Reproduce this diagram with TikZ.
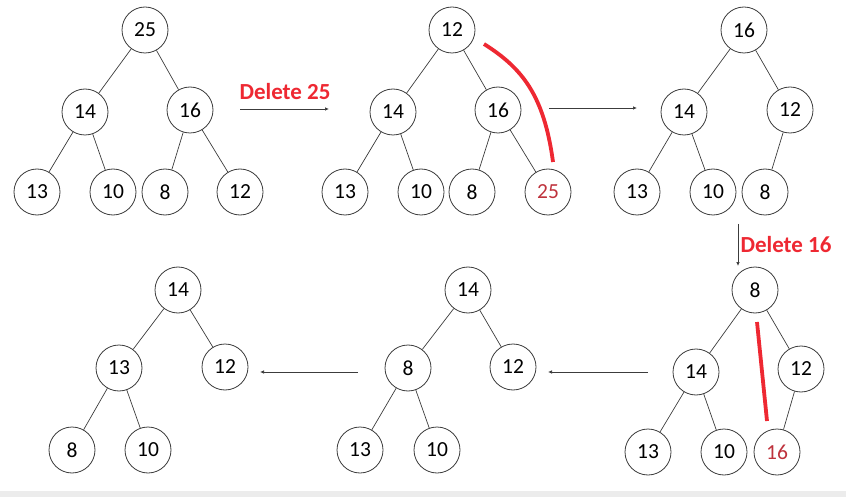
\documentclass[tikz,border=0pt]{standalone}
\usepackage{fontspec}
\setmainfont{Carlito}
\usetikzlibrary{arrows.meta}
\definecolor{delred}{RGB}{238,40,50}
\definecolor{numred}{RGB}{190,50,60}
\definecolor{bargray}{RGB}{236,236,236}
\definecolor{linegray}{RGB}{60,60,60}

\begin{document}
\begin{tikzpicture}[x=1pt, y=-1pt,
  hnode/.style={circle, draw=linegray, line width=0.8pt, minimum size=46pt, inner sep=0pt, font=\fontsize{21.5}{24}\selectfont},
  hedge/.style={draw=linegray, line width=0.7pt},
  flow/.style={-{Latex[length=4pt,width=3.5pt]}, draw=linegray, line width=0.7pt},
  dellabel/.style={text=delred, font=\fontsize{23}{25}\selectfont\bfseries},
  redstroke/.style={draw=delred, line width=3.8pt}]
  \useasboundingbox (0,0) rectangle (846,497);
  \fill[bargray] (0,491) rectangle (846,497);

  % 木1
  \node[hnode] (a25) at (145,30) {25};
  \node[hnode] (a14) at (85,112) {14};
  \node[hnode] (a16) at (190,110) {16};
  \node[hnode] (a13) at (37,192) {13};
  \node[hnode] (a10) at (113,192) {10};
  \node[hnode] (a8) at (165,192) {8};
  \node[hnode] (a12) at (240,192) {12};
  \draw[hedge] (a25) -- (a14) (a25) -- (a16) (a14) -- (a13) (a14) -- (a10)
    (a16) -- (a8) (a16) -- (a12);

  % 木2
  \node[hnode] (b12) at (452,30) {12};
  \node[hnode] (b14) at (393,112) {14};
  \node[hnode] (b16) at (498,110) {16};
  \node[hnode] (b13) at (345,192) {13};
  \node[hnode] (b10) at (421,192) {10};
  \node[hnode] (b8) at (472,192) {8};
  \node[hnode, text=numred] (b25) at (548,192) {25};
  \draw[hedge] (b12) -- (b14) (b12) -- (b16) (b14) -- (b13) (b14) -- (b10)
    (b16) -- (b8) (b16) -- (b25);

  % 木3
  \node[hnode] (c16) at (744,30) {16};
  \node[hnode] (c14) at (684,112) {14};
  \node[hnode] (c12) at (790,110) {12};
  \node[hnode] (c13) at (637,192) {13};
  \node[hnode] (c10) at (713,192) {10};
  \node[hnode] (c8) at (765,192) {8};
  \draw[hedge] (c16) -- (c14) (c16) -- (c12) (c14) -- (c13) (c14) -- (c10)
    (c12) -- (c8);

  % 木4
  \node[hnode] (d8) at (755,290) {8};
  \node[hnode] (d14) at (696,372) {14};
  \node[hnode] (d12) at (801,369) {12};
  \node[hnode] (d13) at (648,452) {13};
  \node[hnode] (d10) at (724,452) {10};
  \node[hnode, text=numred] (d16) at (777,452) {16};
  \draw[hedge] (d8) -- (d14) (d8) -- (d12) (d14) -- (d13) (d14) -- (d10)
    (d12) -- (d16);

  % 木5
  \node[hnode] (e14) at (468,290) {14};
  \node[hnode] (e8) at (408,368) {8};
  \node[hnode] (e12) at (513,367) {12};
  \node[hnode] (e13) at (360,450) {13};
  \node[hnode] (e10) at (437,450) {10};
  \draw[hedge] (e14) -- (e8) (e14) -- (e12) (e8) -- (e13) (e8) -- (e10);

  % 木6
  \node[hnode] (f14) at (178,290) {14};
  \node[hnode] (f13) at (119,368) {13};
  \node[hnode] (f12) at (225,367) {12};
  \node[hnode] (f8) at (72,450) {8};
  \node[hnode] (f10) at (148,450) {10};
  \draw[hedge] (f14) -- (f13) (f14) -- (f12) (f13) -- (f8) (f13) -- (f10);

  % 矢印
  \coordinate (s1) at (240,109);
  \coordinate (t1) at (329,109);
  \coordinate (s2) at (549,108);
  \coordinate (t2) at (637,108);
  \coordinate (s3) at (738,224);
  \coordinate (t3) at (738,266);
  \coordinate (s4) at (648,372);
  \coordinate (t4) at (548,372);
  \coordinate (s5) at (358,372);
  \coordinate (t5) at (260,372);
  \draw[flow] (s1) -- (t1);
  \draw[flow] (s2) -- (t2);
  \draw[flow] (s3) -- (t3);
  \draw[flow] (s4) -- (t4);
  \draw[flow] (s5) -- (t5);
  \node[dellabel] (del25) at (285,92) {Delete 25};
  \node[dellabel] (del16) at (786,245) {Delete 16};

  % 赤線
  \coordinate (r1) at (484,44);
  \coordinate (r2) at (553,162);
  \coordinate (r3) at (757,322);
  \coordinate (r4) at (767,421);
  \draw[redstroke] (r1) .. controls (522,68) and (544,95) .. (r2);
  \draw[redstroke] (r3) -- (r4);
\end{tikzpicture}
\end{document}
